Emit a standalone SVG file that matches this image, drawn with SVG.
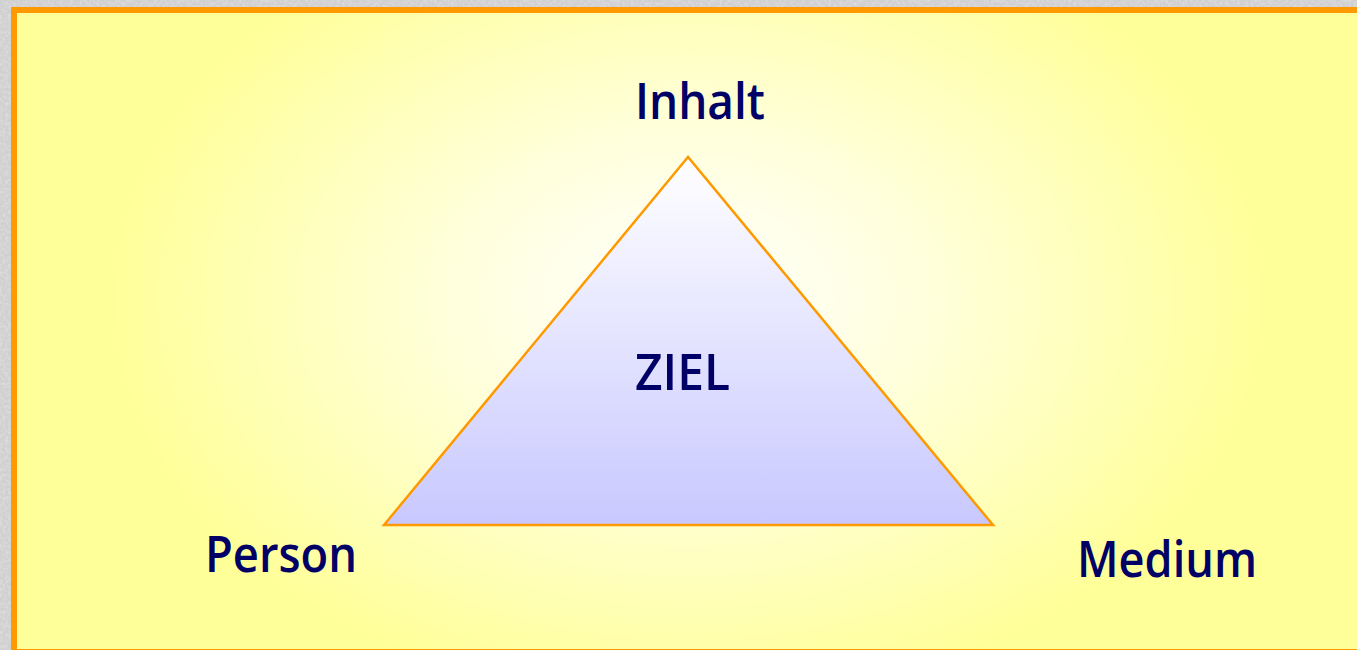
<svg xmlns="http://www.w3.org/2000/svg" width="1357" height="650" viewBox="0 0 1357 650">
<defs>
<radialGradient id="bg" cx="688" cy="300" r="580" gradientUnits="userSpaceOnUse" gradientTransform="translate(688 300) scale(1 0.7) translate(-688 -300)">
<stop offset="0" stop-color="#ffffff"/>
<stop offset="0.4" stop-color="#ffffdd"/>
<stop offset="1" stop-color="#ffff99"/>
</radialGradient>
<linearGradient id="tri" x1="0" y1="157" x2="0" y2="525" gradientUnits="userSpaceOnUse">
<stop offset="0" stop-color="#ffffff"/>
<stop offset="1" stop-color="#c8c8ff"/>
</linearGradient>
<filter id="noise" x="0" y="0" width="100%" height="100%">
<feTurbulence type="fractalNoise" baseFrequency="0.35" numOctaves="2" seed="3"/>
<feColorMatrix type="matrix" values="0 0 0 0 0.78  0 0 0 0 0.78  0 0 0 0 0.78  0 0 0 -2.2 1.4"/>
</filter>
</defs>
<style>
.lbl{font-family:"Open Sans","DejaVu Sans",sans-serif;font-size:50px;font-weight:600;fill:#000066;text-anchor:middle}
</style>
<rect x="0" y="0" width="1357" height="650" fill="#d0d0d0"/>
<rect x="0" y="0" width="1357" height="650" filter="url(#noise)" opacity="0.6"/>
<rect id="frame" x="14" y="10" width="1400" height="642" fill="url(#bg)" stroke="#ff9900" stroke-width="6"/>
<g id="connectors"></g>
<g id="triangle">
<polygon points="688,157 384,525 993,525" fill="url(#tri)" stroke="#ff9900" stroke-width="2.5" stroke-linejoin="miter"/>
<text class="lbl" x="682.5" y="390" textLength="95" lengthAdjust="spacingAndGlyphs">ZIEL</text>
</g>
<g id="inhalt"><text class="lbl" x="700" y="119" textLength="130" lengthAdjust="spacingAndGlyphs">Inhalt</text></g>
<g id="person"><text class="lbl" x="281" y="572" textLength="152" lengthAdjust="spacingAndGlyphs">Person</text></g>
<g id="medium"><text class="lbl" x="1167" y="577" textLength="180" lengthAdjust="spacingAndGlyphs">Medium</text></g>
</svg>
